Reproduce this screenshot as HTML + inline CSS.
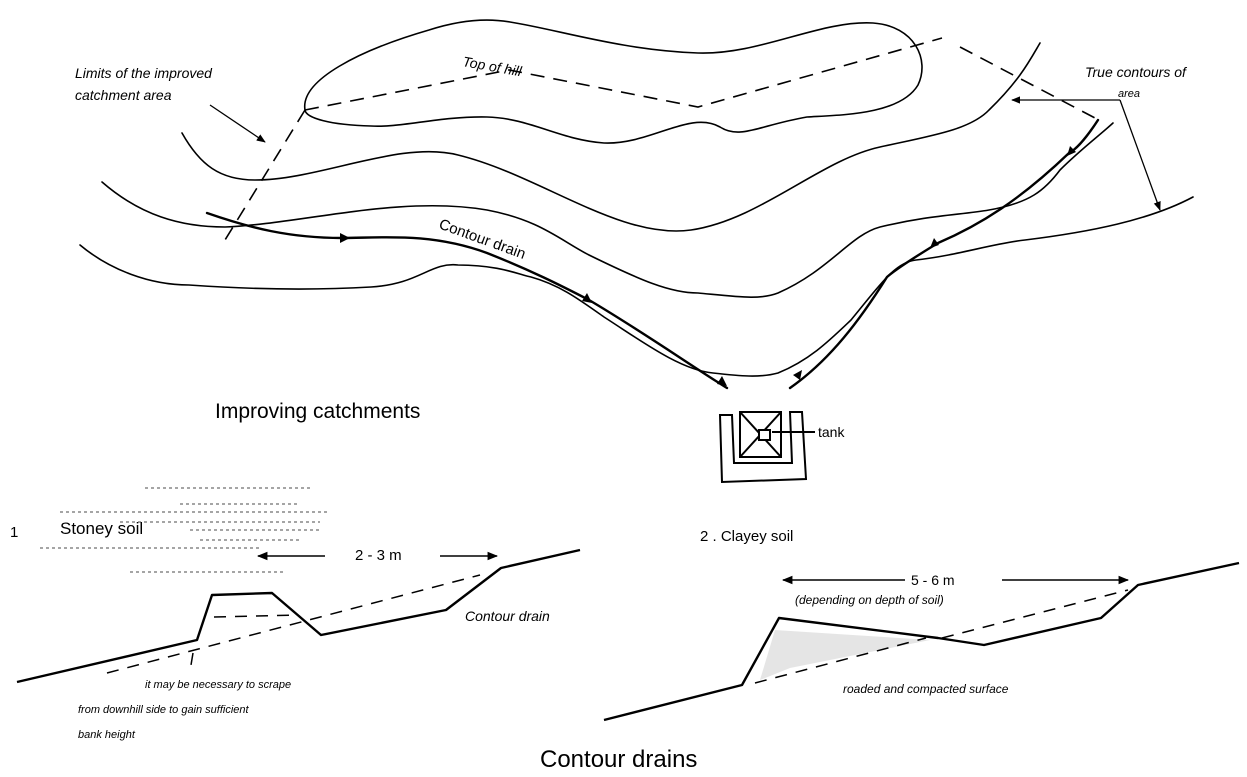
<!DOCTYPE html>
<html><head><meta charset="utf-8"><style>
html,body{margin:0;padding:0;background:#fff;}
svg{display:block;}
text{font-family:"Liberation Sans",sans-serif;fill:#000;}
.i{font-style:italic;}
</style></head><body>
<svg width="1247" height="777" viewBox="0 0 1247 777" xmlns="http://www.w3.org/2000/svg">
<defs>
<marker id="ah" viewBox="0 0 10 10" refX="9" refY="5" markerWidth="7" markerHeight="7" orient="auto"><path d="M0,1 L10,5 L0,9 Z" fill="#000"/></marker>
</defs>
<g fill="none" stroke="#000" stroke-width="1.6" stroke-linecap="round">
<!-- hill loop -->
<path d="M305,110 C300,80 360,50 429,30 C460,20 487,18 510,22 C560,30 620,50 698,53 C760,55 820,20 873,23 C915,26 930,60 918,85 C900,115 840,115 807,117 C760,125 740,140 720,127 C690,110 650,145 604,143 C560,140 530,118 487,117 C440,116 400,128 371,126 C330,125 306,118 305,110 Z"/>
<!-- contour B -->
<path d="M182,133 C200,165 220,180 255,180 C320,180 400,140 458,155 C540,175 620,240 691,230 C760,220 820,160 880,147 C930,136 970,130 989,110 C1020,80 1030,60 1040,43"/>
<!-- contour C -->
<path d="M102,182 C140,215 180,227 225,227 C300,224 400,195 487,210 C540,220 560,240 589,255 C640,280 670,293 698,293 C740,297 760,300 778,293 C830,270 850,235 880,227 C930,215 960,215 989,210 C1030,203 1045,190 1060,170 C1080,150 1100,135 1113,123"/>
<!-- contour D -->
<path d="M80,245 C110,270 150,285 189,285 C260,290 320,290 371,287 C420,284 430,262 458,265 C500,265 520,275 531,277 C560,285 580,300 604,317 C640,340 680,370 713,373 C740,376 760,378 778,373 C810,360 830,340 851,320 C880,285 895,262 916,260 C960,255 990,244 1025,240 C1090,232 1150,220 1193,197"/>
</g>
<!-- drains -->
<g fill="none" stroke="#000" stroke-width="2.4" stroke-linecap="round">
<path d="M207,213 C250,228 290,238 342,238 C380,238 430,232 487,253 C530,270 560,285 589,300 C640,330 690,365 727,388"/>
<path d="M1098,120 C1085,140 1075,150 1069,153 C1020,200 980,225 938,243 C910,260 895,270 887,277 C860,320 830,360 790,388"/>
</g>
<g fill="#000">
<path d="M350,238 l-10,-5 l0,10 z"/>
<path d="M592,303 l-10,-2 l5,-8 z"/>
<path d="M727,386 l-10,-2 l5,-8 z"/>
<path d="M1067,156 l3,-10 l6,6 z"/>
<path d="M930,248 l4,-10 l5,7 z"/>
<path d="M802,370 l-2,10 l-7,-5 z"/>
</g>
<!-- dashed limits -->
<g fill="none" stroke="#000" stroke-width="1.6" stroke-dasharray="14,9">
<path d="M305,110 L225,240"/>
<path d="M305,110 L509,70 L698,107 L942,38"/>
<path d="M960,47 L1095,118"/>
</g>
<!-- pointers -->
<g fill="none" stroke="#000" stroke-width="1.3">
<path d="M210,105 L265,142" marker-end="url(#ah)"/>
<path d="M1120,100 L1012,100" marker-end="url(#ah)"/>
<path d="M1120,100 L1160,210" marker-end="url(#ah)"/>
</g>
<text x="75" y="78" font-size="14" class="i">Limits  of  the  improved</text>
<text x="75" y="100" font-size="14" class="i">catchment  area</text>
<text x="462" y="66" font-size="14" class="i" transform="rotate(10 462 66)">Top   of   hill</text>
<text x="1085" y="77" font-size="14" class="i">True contours of</text>
<text x="1118" y="97" font-size="11" class="i">area</text>
<text x="438" y="228" font-size="15" transform="rotate(20 438 228)">Contour  drain</text>
<text x="215" y="418" font-size="21">Improving  catchments</text>
<!-- tank -->
<g fill="none" stroke="#000" stroke-width="2">
<path d="M720,415 L722,482 L806,479 L802,412 L790,412 L792,463 L734,463 L732,415 Z"/>
<rect x="740" y="412" width="41" height="45"/>
<path d="M740,412 L781,457 M781,412 L740,457"/>
<rect x="759" y="430" width="11" height="10" fill="#fff"/>
<path d="M772,432 L815,432"/>
</g>
<text x="818" y="437" font-size="14">tank</text>
<!-- stoney soil -->
<text x="10" y="537" font-size="15">1</text>
<text x="60" y="534" font-size="17">Stoney soil</text>
<g stroke="#000" stroke-width="1" stroke-dasharray="3,3" opacity="0.7">
<path d="M145,488 L310,488 M60,512 L330,512 M120,522 L320,522 M190,530 L320,530 M40,548 L260,548 M130,572 L285,572 M180,504 L300,504 M200,540 L300,540"/>
</g>
<text x="355" y="560" font-size="15">2 - 3 m</text>
<g fill="none" stroke="#000" stroke-width="1.5">
<path d="M325,556 L258,556" marker-end="url(#ah)"/>
<path d="M440,556 L497,556" marker-end="url(#ah)"/>
</g>
<g fill="none" stroke="#000" stroke-width="2.4" stroke-linejoin="round">
<path d="M17,682 L197,640 L212,595 L272,593 L321,635 L446,610 L501,568 L580,550"/>
</g>
<g fill="none" stroke="#000" stroke-width="1.5" stroke-dasharray="12,9">
<path d="M107,673 L480,575"/>
<path d="M214,617 L298,615"/>
<path d="M193,653 L191,665"/>
</g>
<text x="465" y="621" font-size="14" class="i">Contour drain</text>
<text x="145" y="688" font-size="11" class="i">it may be  necessary  to  scrape</text>
<text x="78" y="713" font-size="11" class="i">from downhill  side  to gain sufficient</text>
<text x="78" y="738" font-size="11" class="i">bank  height</text>
<!-- clayey soil -->
<text x="700" y="541" font-size="15">2 . Clayey soil</text>
<text x="911" y="585" font-size="14">5 - 6 m</text>
<g fill="none" stroke="#000" stroke-width="1.5">
<path d="M905,580 L783,580" marker-end="url(#ah)"/>
<path d="M1002,580 L1128,580" marker-end="url(#ah)"/>
</g>
<text x="795" y="604" font-size="12" class="i">(depending on depth of soil)</text>
<path d="M775,630 L930,640 L790,668 L760,680 Z" fill="#ccc" opacity="0.5"/>
<g fill="none" stroke="#000" stroke-width="2.4" stroke-linejoin="round">
<path d="M604,720 L742,685 L779,618 L938,638 L984,645 L1101,618 L1138,585 L1239,563"/>
</g>
<g fill="none" stroke="#000" stroke-width="1.5" stroke-dasharray="12,9">
<path d="M942,638 L1128,590"/>
<path d="M755,683 L926,638"/>
</g>
<text x="843" y="693" font-size="12" class="i">roaded  and  compacted  surface</text>
<text x="540" y="767" font-size="24">Contour   drains</text>
</svg>
</body></html>
